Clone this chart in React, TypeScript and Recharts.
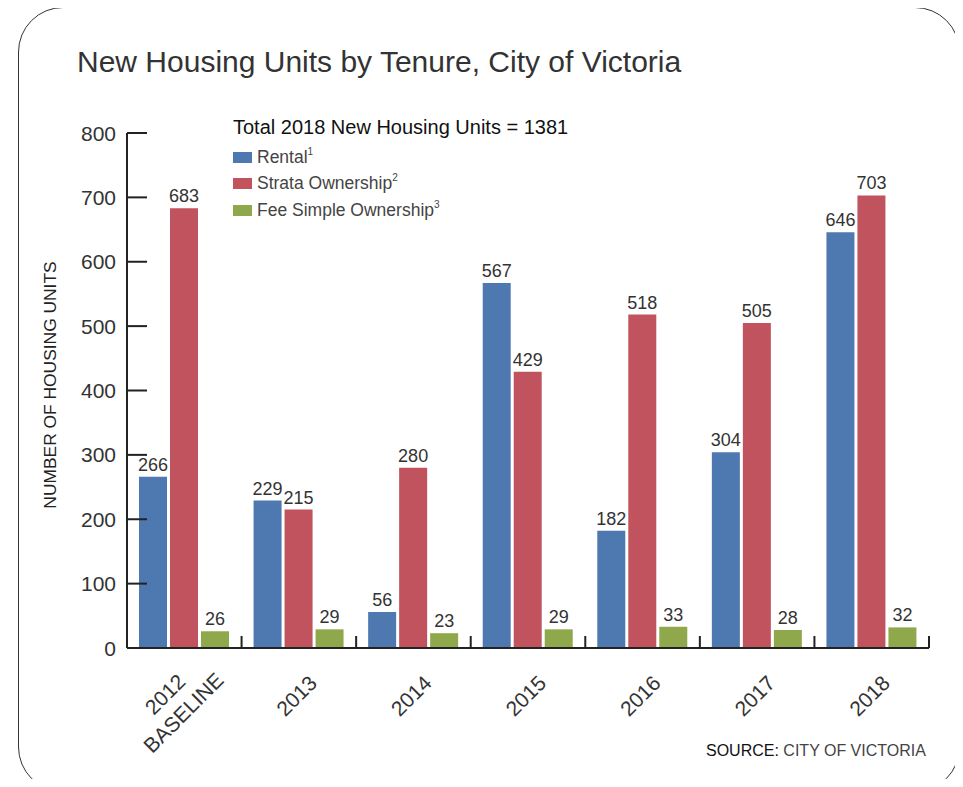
import { BarChart, Bar, XAxis, YAxis, LabelList } from 'recharts';

const years = ['2012\nBASELINE', '2013', '2014', '2015', '2016', '2017', '2018'];
const rental = [266, 229, 56, 567, 182, 304, 646];
const strata = [683, 215, 280, 429, 518, 505, 703];
const feeSimple = [26, 29, 23, 29, 33, 28, 32];
const yTicks = [0, 100, 200, 300, 400, 500, 600, 700, 800];

const series = [
  { key: 'rental', name: 'Rental', note: '1', color: '#4e78b0' },
  { key: 'strata', name: 'Strata Ownership', note: '2', color: '#c0535d' },
  { key: 'fee', name: 'Fee Simple Ownership', note: '3', color: '#8fa84c' },
];

const data = years.map((year, i) => ({
  year,
  rental: rental[i],
  strata: strata[i],
  fee: feeSimple[i],
}));

const FONT = '"Liberation Sans", Arial, Helvetica, sans-serif';
const PLOT_LEFT = 127;
const PLOT_RIGHT = 929;
const BAND = (PLOT_RIGHT - PLOT_LEFT) / years.length;

function YTick(props: any) {
  const { x, y, payload } = props;
  return (
    <g>
      <line x1={x} x2={x + 20} y1={y} y2={y} stroke="#222" strokeWidth={2} />
      <text x={x - 11} y={y + 7.5} textAnchor="end" fontSize={21} fill="#333" fontFamily={FONT}>
        {payload.value}
      </text>
    </g>
  );
}

function XTick(props: any) {
  const { x, y, payload, index } = props;
  const lines = String(payload.value).split('\n');
  const n = lines.length;
  const u = n > 1 ? -11 : 0;
  return (
    <g>
      {index > 0 && (
        <line x1={x - BAND / 2} x2={x - BAND / 2} y1={y} y2={y - 12} stroke="#222" strokeWidth={2} />
      )}
      {index === years.length - 1 && (
        <line x1={x + BAND / 2} x2={x + BAND / 2} y1={y} y2={y - 12} stroke="#222" strokeWidth={2} />
      )}
      <g transform={`translate(${x - 2},${y + 48}) rotate(-45)`}>
        {lines.map((line, k) => (
          <text
            key={k}
            x={u}
            y={(k - (n - 1) / 2) * 26 + 7}
            textAnchor="middle"
            fontSize={21}
            fill="#333"
            fontFamily={FONT}
          >
            {line}
          </text>
        ))}
      </g>
    </g>
  );
}

export default function App() {
  return (
    <div
      style={{
        position: 'relative',
        margin: -8,
        width: 963,
        height: 787,
        overflow: 'hidden',
        background: '#fff',
        fontFamily: FONT,
      }}
    >
      <div
        style={{
          position: 'absolute',
          left: 18,
          top: 7,
          width: 942,
          height: 785,
          border: '1.3px solid #333',
          borderRadius: 45,
          boxSizing: 'border-box',
        }}
      />
      <div style={{ position: 'absolute', left: 77, top: 45, fontSize: 30, color: '#333', whiteSpace: 'nowrap' }}>
        New Housing Units by Tenure, City of Victoria
      </div>
      <BarChart
        width={963}
        height={787}
        data={data}
        margin={{ top: 133, right: 963 - PLOT_RIGHT, bottom: 0, left: 0 }}
        barSize={28}
        barGap={3}
        style={{ position: 'absolute', left: 0, top: 0 }}
      >
        <XAxis
          dataKey="year"
          height={139}
          interval={0}
          tickLine={false}
          tickSize={0}
          tickMargin={0}
          axisLine={{ stroke: '#222', strokeWidth: 2 }}
          tick={<XTick />}
        />
        <YAxis
          width={PLOT_LEFT}
          domain={[0, 800]}
          ticks={yTicks}
          interval={0}
          tickLine={false}
          tickSize={0}
          tickMargin={0}
          axisLine={{ stroke: '#222', strokeWidth: 2 }}
          tick={<YTick />}
        />
        {series.map((s) => (
          <Bar key={s.key} dataKey={s.key} name={s.name} fill={s.color} isAnimationActive={false}>
            <LabelList
              dataKey={s.key}
              position="top"
              offset={6}
              fontSize={18}
              fill="#333"
              fontFamily={FONT}
            />
          </Bar>
        ))}
      </BarChart>
      <div
        style={{
          position: 'absolute',
          left: 50,
          top: 385,
          transform: 'translate(-50%, -50%) rotate(-90deg)',
          fontSize: 17.4,
          color: '#222',
          whiteSpace: 'nowrap',
        }}
      >
        NUMBER OF HOUSING UNITS
      </div>
      <div style={{ position: 'absolute', left: 233, top: 116 }}>
        <div style={{ fontSize: 20, color: '#111', marginBottom: 5, whiteSpace: 'nowrap' }}>
          Total 2018 New Housing Units = 1381
        </div>
        {series.map((s) => (
          <div key={s.key} style={{ display: 'flex', alignItems: 'center', height: 26.5, whiteSpace: 'nowrap' }}>
            <span style={{ display: 'inline-block', width: 19, height: 11, background: s.color, marginRight: 5 }} />
            <span style={{ fontSize: 17.5, color: '#444' }}>
              {s.name}
              <sup style={{ fontSize: 10, verticalAlign: 'top', position: 'relative', top: -1 }}>{s.note}</sup>
            </span>
          </div>
        ))}
      </div>
      <div style={{ position: 'absolute', left: 706, top: 742, fontSize: 16, color: '#444', whiteSpace: 'nowrap' }}>
        <span style={{ color: '#111' }}>SOURCE:</span> CITY OF VICTORIA
      </div>
    </div>
  );
}
